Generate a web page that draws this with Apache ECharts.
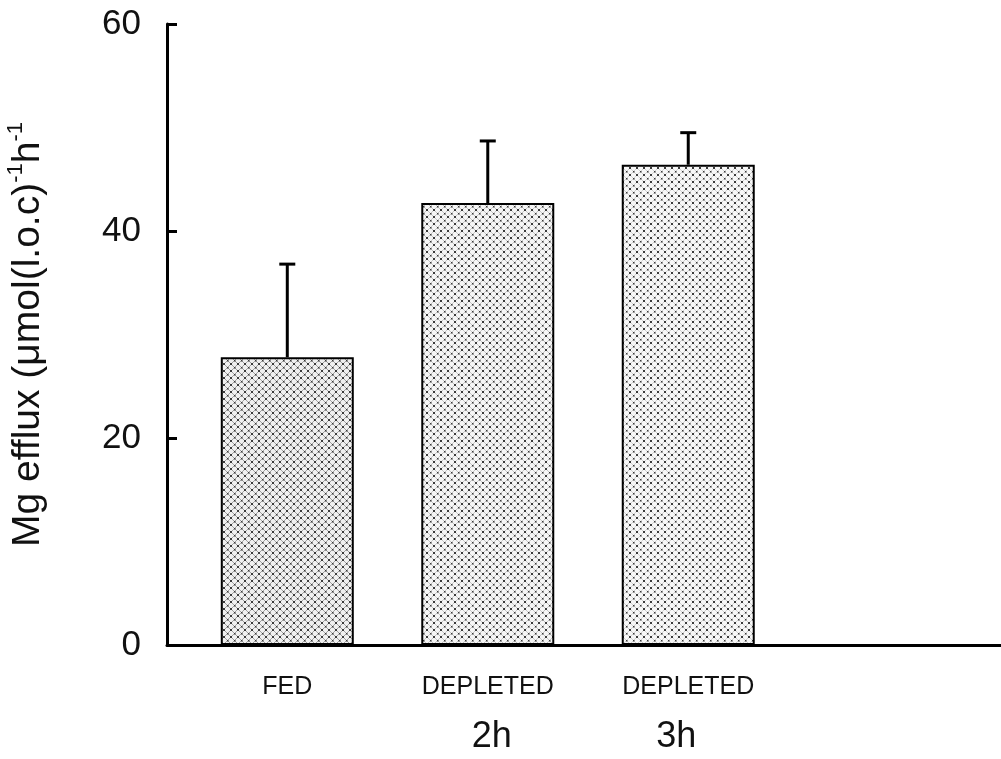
<!DOCTYPE html>
<html>
<head>
<meta charset="utf-8">
<script src="https://cdn.jsdelivr.net/npm/echarts@6/dist/echarts.min.js"></script>
<style>
html,body{margin:0;padding:0;background:#fff;}
#c{width:1001px;height:759px;}
</style>
</head>
<body>
<div id="c"></div>
<script>
// ---- data ----
const categories = ['FED', 'DEPLETED', 'DEPLETED'];
const subLabels = ['', '2h', '3h'];
const means = [27.8, 42.7, 46.4];
const errTops = [36.8, 48.7, 49.5];
const yTickValues = [0, 20, 40, 60];

const FONT = 'Liberation Sans, Arial, Helvetica, sans-serif';

function makePattern(lineColor, bg) {
  const s = 7;
  const c = document.createElement('canvas');
  c.width = s; c.height = s;
  const g = c.getContext('2d');
  g.fillStyle = bg;
  g.fillRect(0, 0, s, s);
  g.strokeStyle = lineColor;
  g.lineWidth = 1;
  g.beginPath();
  g.moveTo(0, 0); g.lineTo(s, s);
  g.moveTo(s, 0); g.lineTo(0, s);
  g.stroke();
  g.fillStyle = '#3a3a3a';
  g.fillRect(3, 3, 1.5, 1.5);
  g.fillRect(0, 0, 1, 1);
  g.fillRect(s - 1, 0, 1, 1);
  g.fillRect(0, s - 1, 1, 1);
  g.fillRect(s - 1, s - 1, 1, 1);
  return c;
}
const patterns = [
  makePattern('#a0a0a0', '#f0f0f0'),
  makePattern('#c4c4c4', '#f5f5f5'),
  makePattern('#d0d0d0', '#f7f7f7')
];

const chart = echarts.init(document.getElementById('c'), null, {renderer: 'canvas'});

const option = {
  backgroundColor: '#ffffff',
  animation: false,
  grid: {left: 167, right: 0, top: 24, bottom: 114, containLabel: false, outerBoundsMode: 'none'},
  xAxis: {
    type: 'value',
    min: -0.6,
    max: 3.56,
    axisLine: {show: true, onZero: true, lineStyle: {color: '#000', width: 3}},
    axisTick: {show: false},
    splitLine: {show: false},
    axisLabel: {
      customValues: [0, 1, 2],
      margin: 27,
      formatter: function (v) {
        const i = Math.round(v);
        if (i < 0 || i >= categories.length) return '';
        return subLabels[i] ? '{a|' + categories[i] + '}\n{b' + i + '|' + subLabels[i] + '}' : '{a|' + categories[i] + '}';
      },
      rich: {
        a: {fontSize: 25, fontFamily: FONT, color: '#111', lineHeight: 30},
        b1: {fontSize: 36, fontFamily: FONT, color: '#111', lineHeight: 70, padding: [0, 0, 0, 8]},
        b2: {fontSize: 36, fontFamily: FONT, color: '#111', lineHeight: 70, padding: [0, 24, 0, 0]}
      }
    }
  },
  yAxis: {
    type: 'value',
    min: yTickValues[0],
    max: yTickValues[yTickValues.length - 1],
    interval: 20,
    axisLine: {show: true, onZero: false, lineStyle: {color: '#000', width: 3}},
    axisTick: {show: true, inside: true, length: 10, lineStyle: {color: '#000', width: 3}},
    splitLine: {show: false},
    axisLabel: {fontSize: 35, fontFamily: FONT, color: '#111', margin: 26},
    name: '{t|Mg efflux (μmol(l.o.c)}{s|-1}{t|h}{s|-1}',
    nameLocation: 'middle',
    nameGap: 116,
    nameRotate: 90,
    nameTextStyle: {
      fontSize: 39, fontFamily: FONT, color: '#111',
      rich: {
        t: {fontSize: 39, fontFamily: FONT, color: '#111', lineHeight: 46},
        s: {fontSize: 22, fontFamily: FONT, color: '#111', lineHeight: 25, verticalAlign: 'top'}
      }
    }
  },
  series: [
    {
      type: 'bar',
      barWidth: 133,
      z: 2,
      data: means.map(function (v, i) {
        return {value: [i, v], itemStyle: {color: {image: patterns[i], repeat: 'repeat'}, borderColor: '#000', borderWidth: 2}};
      })
    },
    {
      type: 'custom',
      z: 3,
      data: means.map(function (v, i) { return [i, v, errTops[i]]; }),
      renderItem: function (params, api) {
        const x = api.value(0);
        const p0 = api.coord([x, api.value(1)]);
        const p1 = api.coord([x, api.value(2)]);
        const half = 8;
        return {
          type: 'group',
          children: [
            {type: 'line', shape: {x1: p0[0], y1: p0[1], x2: p1[0], y2: p1[1]}, style: {stroke: '#000', lineWidth: 3}},
            {type: 'line', shape: {x1: p1[0] - half, y1: p1[1], x2: p1[0] + half, y2: p1[1]}, style: {stroke: '#000', lineWidth: 3}}
          ]
        };
      }
    }
  ]
};
chart.setOption(option);
</script>
</body>
</html>
